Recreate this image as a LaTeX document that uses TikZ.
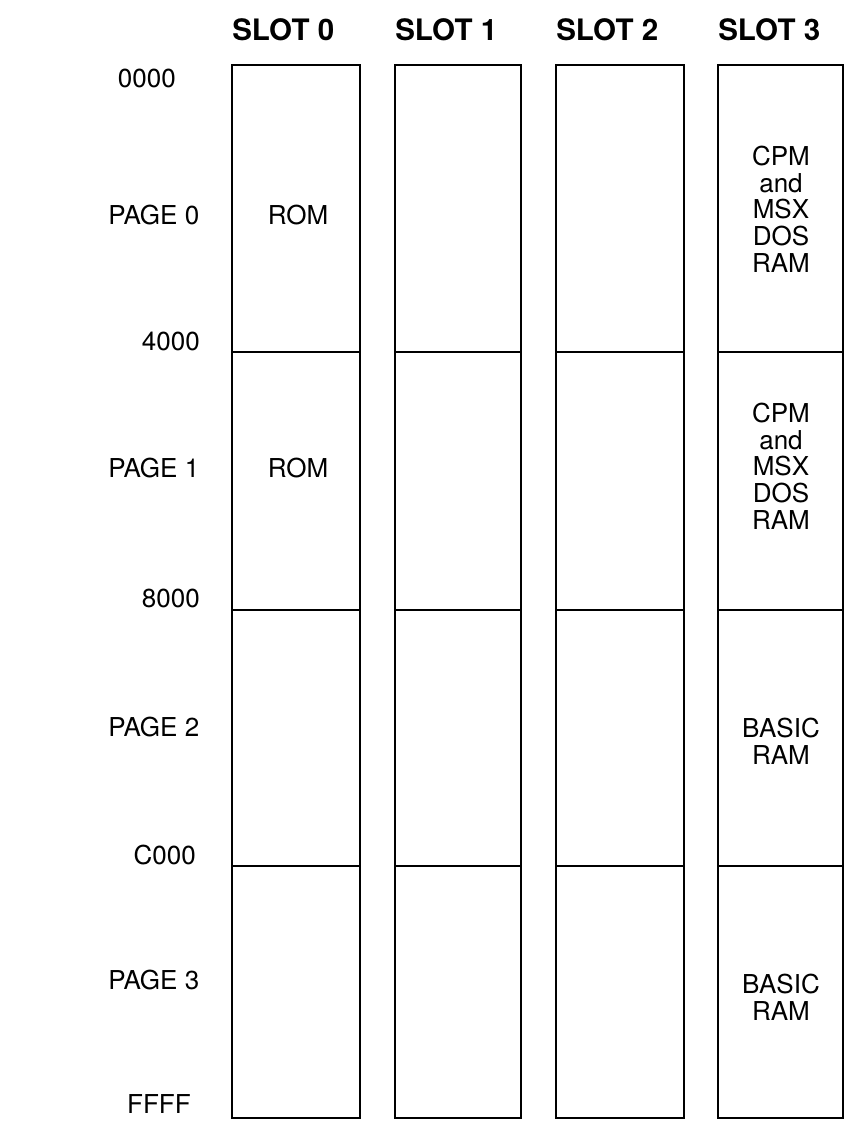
\documentclass[tikz,border=0pt]{standalone}
\usepackage{fontspec}
\setmainfont{TeX Gyre Heros}
\usetikzlibrary{positioning}

\begin{document}
\begin{tikzpicture}[
  x=0.025cm, y=-0.025cm,
  cell/.style={draw, line width=1.7pt, inner sep=0pt, outer sep=0pt},
  head/.style={font=\fontsize{21}{24}\selectfont\bfseries, anchor=base west, inner sep=0pt},
  pagelbl/.style={font=\fontsize{18.5}{19}\selectfont, anchor=west, inner sep=0pt},
  addr/.style={font=\fontsize{18.5}{19}\selectfont, anchor=base east, inner sep=0pt},
  memtext/.style={font=\fontsize{18.5}{19}\selectfont, align=center}
]
\useasboundingbox (0,0) rectangle (854,1125);

% slot columns, one cell per page
\foreach \s/\x/\w in {0/232/128, 1/395/126, 2/556/128, 3/718/125} {
  \foreach \p/\ya/\yb in {0/65/352, 1/352/610, 2/610/866, 3/866/1118} {
    \node[cell, minimum width=\w*0.025cm, minimum height={(\yb-\ya)*0.025cm}]
      (c\s\p) at ({\x+\w/2}, {(\ya+\yb)/2}) {};
  }
  \node[head] (h\s) at ([yshift=0.62cm]c\s0.north west) {SLOT \s};
}

% page names
\node[pagelbl] (pg0) at (108,215) {PAGE 0};
\node[pagelbl] (pg1) at (108,468) {PAGE 1};
\node[pagelbl] (pg2) at (108,727) {PAGE 2};
\node[pagelbl] (pg3) at (108,980) {PAGE 3};

% addresses
\node[addr] (a0) at (176,87)   {0000};
\node[addr] (a1) at (200,350)  {4000};
\node[addr] (a2) at (200,607)  {8000};
\node[addr] (a3) at (196,864)  {C000};
\node[addr] (a4) at (191,1113) {FFFF};

% contents
\node[memtext] (rom0) at (298,215) {ROM};
\node[memtext] (rom1) at (298,468) {ROM};
\node[memtext] (dos0) at (781,209) {CPM\\and\\MSX\\DOS\\RAM};
\node[memtext] (dos1) at (781,466) {CPM\\and\\MSX\\DOS\\RAM};
\node[memtext] (bas2) at (781,741) {BASIC\\RAM};
\node[memtext] (bas3) at (781,997) {BASIC\\RAM};
\end{tikzpicture}
\end{document}
